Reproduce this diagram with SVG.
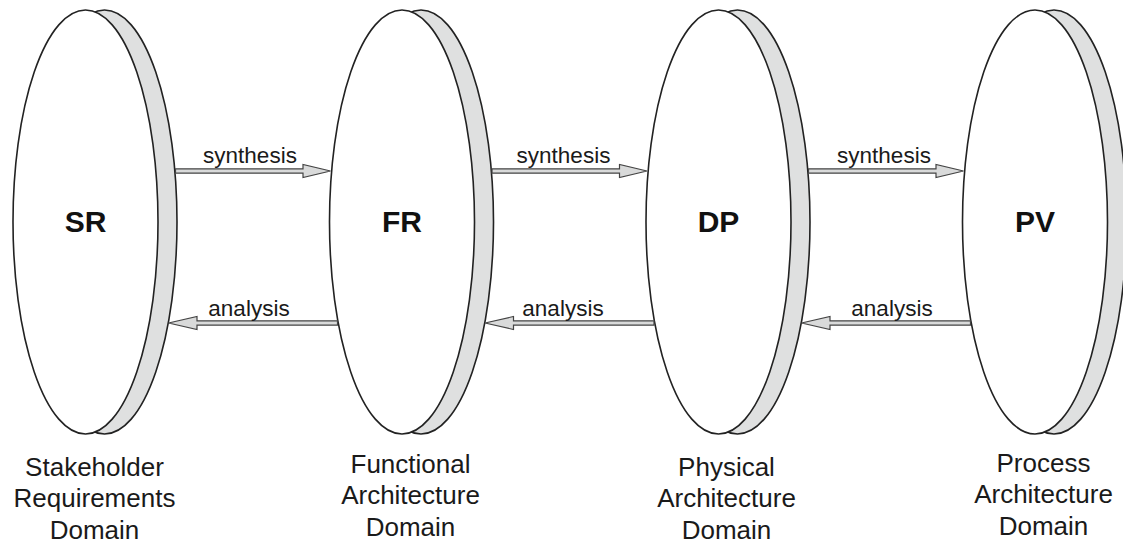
<svg xmlns="http://www.w3.org/2000/svg" xmlns:xlink="http://www.w3.org/1999/xlink" width="1123" height="545" viewBox="0 0 1123 545">
  <style>
    .back { fill: #dfe0e0; stroke: #222; stroke-width: 1.6; }
    .front { fill: #ffffff; stroke: #222; stroke-width: 1.6; }
    .abbr { font-family: "Liberation Sans", Arial, sans-serif; font-weight: bold; font-size: 30px; fill: #111; text-anchor: middle; }
    .name { font-family: "Liberation Sans", Arial, sans-serif; font-size: 26px; fill: #1a1a1a; text-anchor: middle; }
    .lbl { font-family: "Liberation Sans", Arial, sans-serif; font-size: 22.5px; fill: #1a1a1a; text-anchor: middle; }
    .arrow { fill: #d9dada; stroke: #444; stroke-width: 1.2; stroke-linejoin: miter; }
  </style>
  <defs>
    <!-- a disk: shaded rim behind a white face -->
    <g id="disk">
      <ellipse class="back" cx="19" cy="222" rx="72.5" ry="212"/>
      <ellipse class="front" cx="0" cy="222" rx="72.5" ry="212"/>
    </g>
    <!-- hollow arrow pointing right, from back rim to next face -->
    <path id="synArrow" class="arrow" d="M175.5,168.8 L303,168.8 L303,164.5 L330.5,171 L303,177.5 L303,173.2 L175.5,173.2 Z"/>
    <!-- hollow arrow pointing left -->
    <path id="anaArrow" class="arrow" d="M337.5,320.8 L197,320.8 L197,316.5 L168.5,323 L197,329.5 L197,325.2 L337.5,325.2 Z"/>
  </defs>

  <g id="node-sr">
    <use xlink:href="#disk" transform="translate(85.5,0)"/>
    <text class="abbr" x="85.5" y="232">SR</text>
    <text class="name" x="94.5" y="476">Stakeholder</text>
    <text class="name" x="94.5" y="507">Requirements</text>
    <text class="name" x="94.5" y="539">Domain</text>
  </g>

  <g id="node-fr">
    <use xlink:href="#disk" transform="translate(402,0)"/>
    <text class="abbr" x="402" y="232">FR</text>
    <text class="name" x="410.5" y="473">Functional</text>
    <text class="name" x="410.5" y="504">Architecture</text>
    <text class="name" x="410.5" y="536">Domain</text>
  </g>

  <g id="node-dp">
    <use xlink:href="#disk" transform="translate(718.5,0)"/>
    <text class="abbr" x="718.5" y="232">DP</text>
    <text class="name" x="726.5" y="476">Physical</text>
    <text class="name" x="726.5" y="507">Architecture</text>
    <text class="name" x="726.5" y="539">Domain</text>
  </g>

  <g id="node-pv">
    <use xlink:href="#disk" transform="translate(1035,0)"/>
    <text class="abbr" x="1035" y="232">PV</text>
    <text class="name" x="1043.5" y="472">Process</text>
    <text class="name" x="1043.5" y="503">Architecture</text>
    <text class="name" x="1043.5" y="535">Domain</text>
  </g>

  <g id="connectors">
    <use xlink:href="#synArrow"/>
    <use xlink:href="#synArrow" transform="translate(316.5,0)"/>
    <use xlink:href="#synArrow" transform="translate(633,0)"/>
    <use xlink:href="#anaArrow"/>
    <use xlink:href="#anaArrow" transform="translate(316.5,0)"/>
    <use xlink:href="#anaArrow" transform="translate(633,0)"/>
    <text class="lbl" x="250" y="163">synthesis</text>
    <text class="lbl" x="563.5" y="163">synthesis</text>
    <text class="lbl" x="884" y="163">synthesis</text>
    <text class="lbl" x="249" y="316">analysis</text>
    <text class="lbl" x="563" y="316">analysis</text>
    <text class="lbl" x="892" y="316">analysis</text>
  </g>
</svg>
